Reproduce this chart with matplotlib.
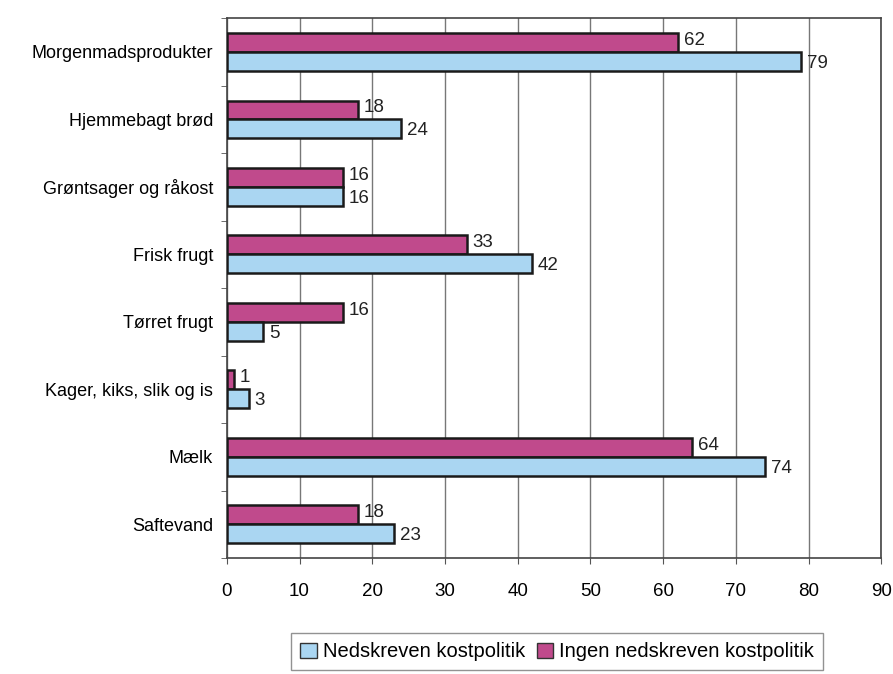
import matplotlib.pyplot as plt
import numpy as np

plt.rcParams['font.family'] = ['Liberation Sans', 'DejaVu Sans']

categories = ['Morgenmadsprodukter', 'Hjemmebagt brød', 'Grøntsager og råkost',
              'Frisk frugt', 'Tørret frugt', 'Kager, kiks, slik og is',
              'Mælk', 'Saftevand']
nedskreven = [79, 24, 16, 42, 5, 3, 74, 23]
ingen = [62, 18, 16, 33, 16, 1, 64, 18]
xticks = [0, 10, 20, 30, 40, 50, 60, 70, 80, 90]

blue = '#aad6f2'
pink = '#c04a8c'

fig = plt.figure(figsize=(8.93, 6.74), dpi=100)
ax = fig.add_axes([0.254, 0.172, 0.733, 0.801])

y = np.arange(len(categories))
h = 0.28
b1 = ax.barh(y - h / 2, ingen, height=h, color=pink, edgecolor='#1a1a1a', lw=1.8, zorder=3)
b2 = ax.barh(y + h / 2, nedskreven, height=h, color=blue, edgecolor='#1a1a1a', lw=1.8, zorder=3)

for bar, v in zip(b1, ingen):
    ax.text(bar.get_width() + 0.8, bar.get_y() + bar.get_height() / 2 - 0.03, str(v),
            va='center', ha='left', fontsize=13.5, color='#222222')
for bar, v in zip(b2, nedskreven):
    ax.text(bar.get_width() + 0.8, bar.get_y() + bar.get_height() / 2 + 0.03, str(v),
            va='center', ha='left', fontsize=13.5, color='#222222')

ax.set_ylim(len(categories) - 0.5, -0.5)
ax.set_xlim(0, 90)
ax.set_xticks(xticks)
ax.set_xticklabels([str(t) for t in xticks], fontsize=13.5)
ax.set_yticks(y)
ax.set_yticklabels(categories, fontsize=13)
ax.set_yticks(np.arange(len(categories) + 1) - 0.5, minor=True)
ax.tick_params(axis='y', which='major', length=0, pad=10)
ax.tick_params(axis='y', which='minor', length=4, color='#555555')
ax.tick_params(axis='x', length=4, color='#555555', pad=14)
ax.grid(axis='x', color='#777777', lw=1.0, zorder=0)
for s in ax.spines.values():
    s.set_color('#444444')
    s.set_linewidth(1.2)

handles = [plt.Rectangle((0, 0), 1, 1, fc=blue, ec='#333333', lw=1),
           plt.Rectangle((0, 0), 1, 1, fc=pink, ec='#333333', lw=1)]
leg = fig.legend(handles, ['Nedskreven kostpolitik', 'Ingen nedskreven kostpolitik'],
                 loc='center', bbox_to_anchor=(0.624, 0.033), ncol=2, fontsize=14.5,
                 frameon=True, fancybox=False, edgecolor='#777777',
                 handlelength=0.8, handleheight=0.8, handletextpad=0.3, columnspacing=0.6,
                 borderpad=0.45)

fig.savefig('out.png', dpi=100, facecolor='white')
